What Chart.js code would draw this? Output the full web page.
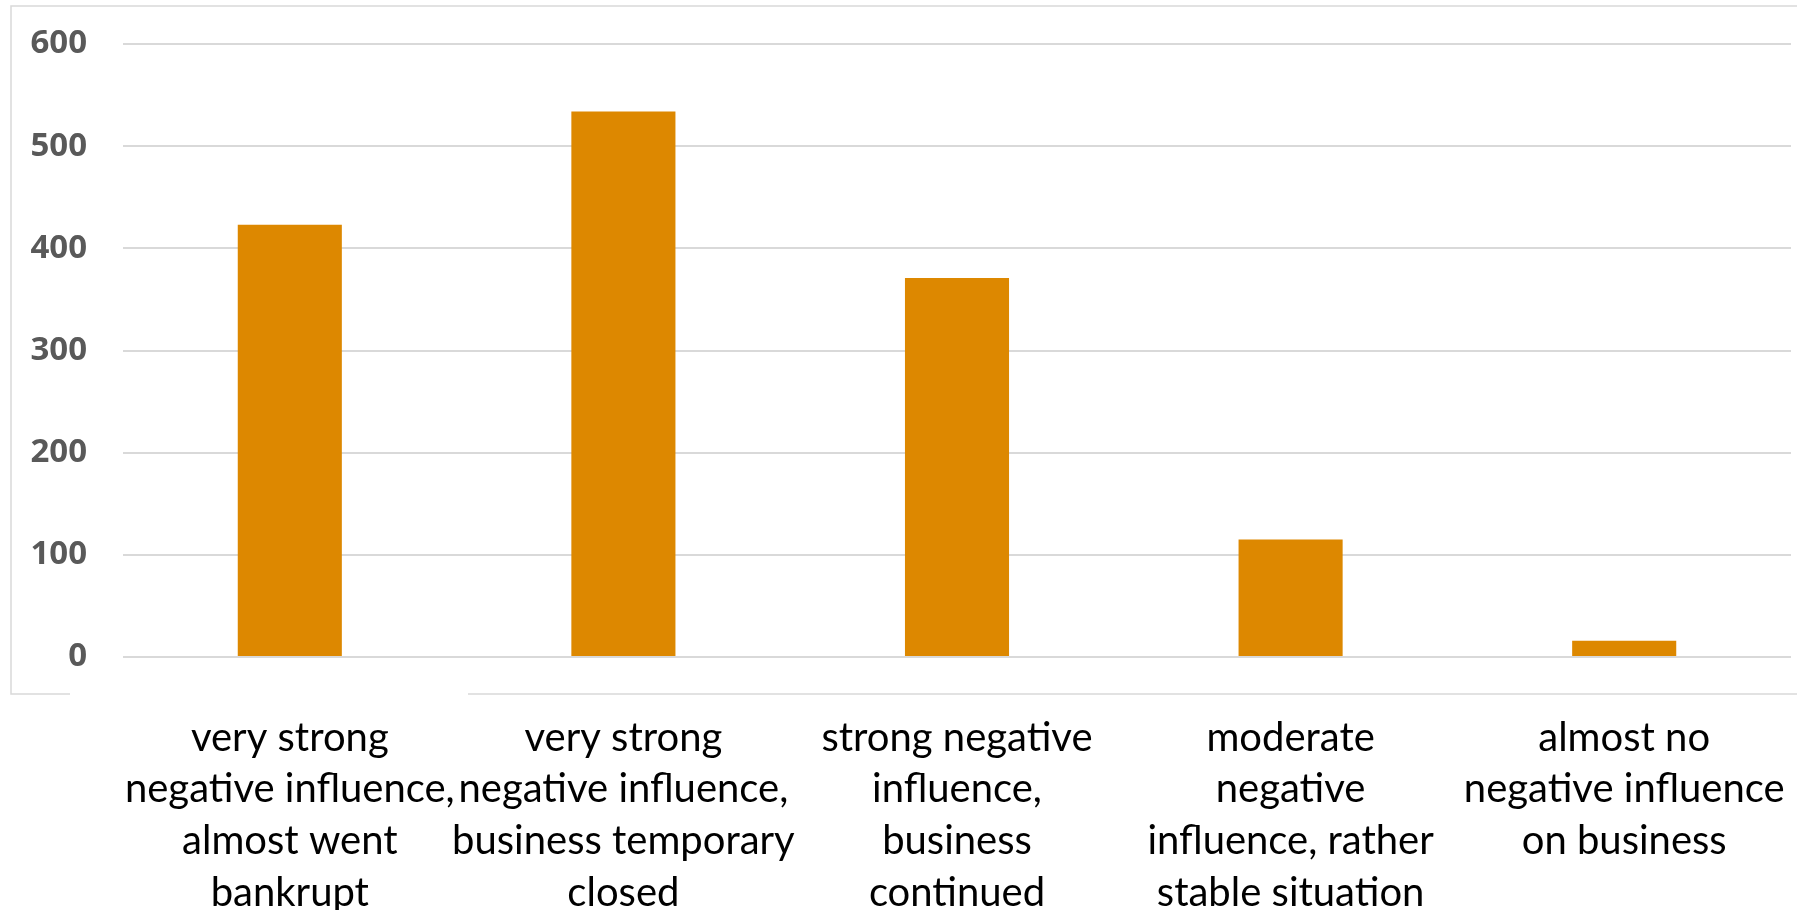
<!DOCTYPE html>
<html>
<head>
<meta charset="utf-8">
<script src="https://cdn.jsdelivr.net/npm/chart.js@4.4.1/dist/chart.umd.min.js"></script>
<style>
  html, body { margin: 0; padding: 0; background: #ffffff; }
  #wrap { width: 1797px; height: 910px; position: relative; }
</style>
</head>
<body>
<div id="wrap"><canvas id="c" width="1797" height="910"></canvas></div>
<script>
const categories = [
  ["very strong", "negative influence,", "almost went", "bankrupt"],
  ["very strong", "negative influence,", "business temporary", "closed"],
  ["strong negative", "influence,", "business", "continued"],
  ["moderate", "negative", "influence, rather", "stable situation"],
  ["almost no", "negative influence", "on business"]
];
const values = [423, 534, 371, 115, 16];
const yTicks = [0, 100, 200, 300, 400, 500, 600];

const frame = {
  id: 'frame',
  beforeDraw(chart) {
    const ctx = chart.ctx;
    ctx.save();
    ctx.strokeStyle = '#D9D9D9';
    ctx.lineWidth = 1.5;
    ctx.beginPath();
    ctx.moveTo(1797, 6); ctx.lineTo(11, 6); ctx.lineTo(11, 694); ctx.lineTo(70, 694);
    ctx.moveTo(468, 694); ctx.lineTo(1797, 694);
    ctx.stroke();
    ctx.restore();
  }
};

new Chart(document.getElementById('c'), {
  type: 'bar',
  data: {
    labels: categories,
    datasets: [{
      data: values,
      backgroundColor: '#DD8800',
      borderWidth: 0,
      categoryPercentage: 1,
      barPercentage: 0.312
    }]
  },
  options: {
    responsive: false,
    animation: false,
    layout: { padding: { top: 44, right: 6, left: 0, bottom: 0 } },
    plugins: { legend: { display: false }, tooltip: { enabled: false } },
    scales: {
      x: {
        grid: { display: false, drawTicks: false },
        border: { display: false },
        ticks: {
          autoSkip: false, maxRotation: 0, minRotation: 0,
          color: '#000000',
          padding: 55,
          font: { family: '"Lato", sans-serif', size: 40, lineHeight: 1.29 }
        },
        afterFit(axis) {
          axis.height = 253;
          axis.paddingLeft = 0; axis.paddingRight = 0;
          axis.paddingTop = 0; axis.paddingBottom = 0;
        }
      },
      y: {
        min: 0, max: 600,
        afterBuildTicks(axis) { axis.ticks = yTicks.map(v => ({ value: v })); },
        grid: { color: '#D9D9D9', lineWidth: 2, drawTicks: false },
        border: { display: false },
        ticks: {
          color: '#595959',
          padding: 36,
          font: { family: '"Open Sans", sans-serif', size: 33, weight: 'bold' }
        },
        afterFit(axis) {
          axis.width = 123;
          axis.paddingLeft = 0; axis.paddingRight = 0;
          axis.paddingTop = 0; axis.paddingBottom = 0;
        }
      }
    }
  },
  plugins: [frame]
});
</script>
</body>
</html>
